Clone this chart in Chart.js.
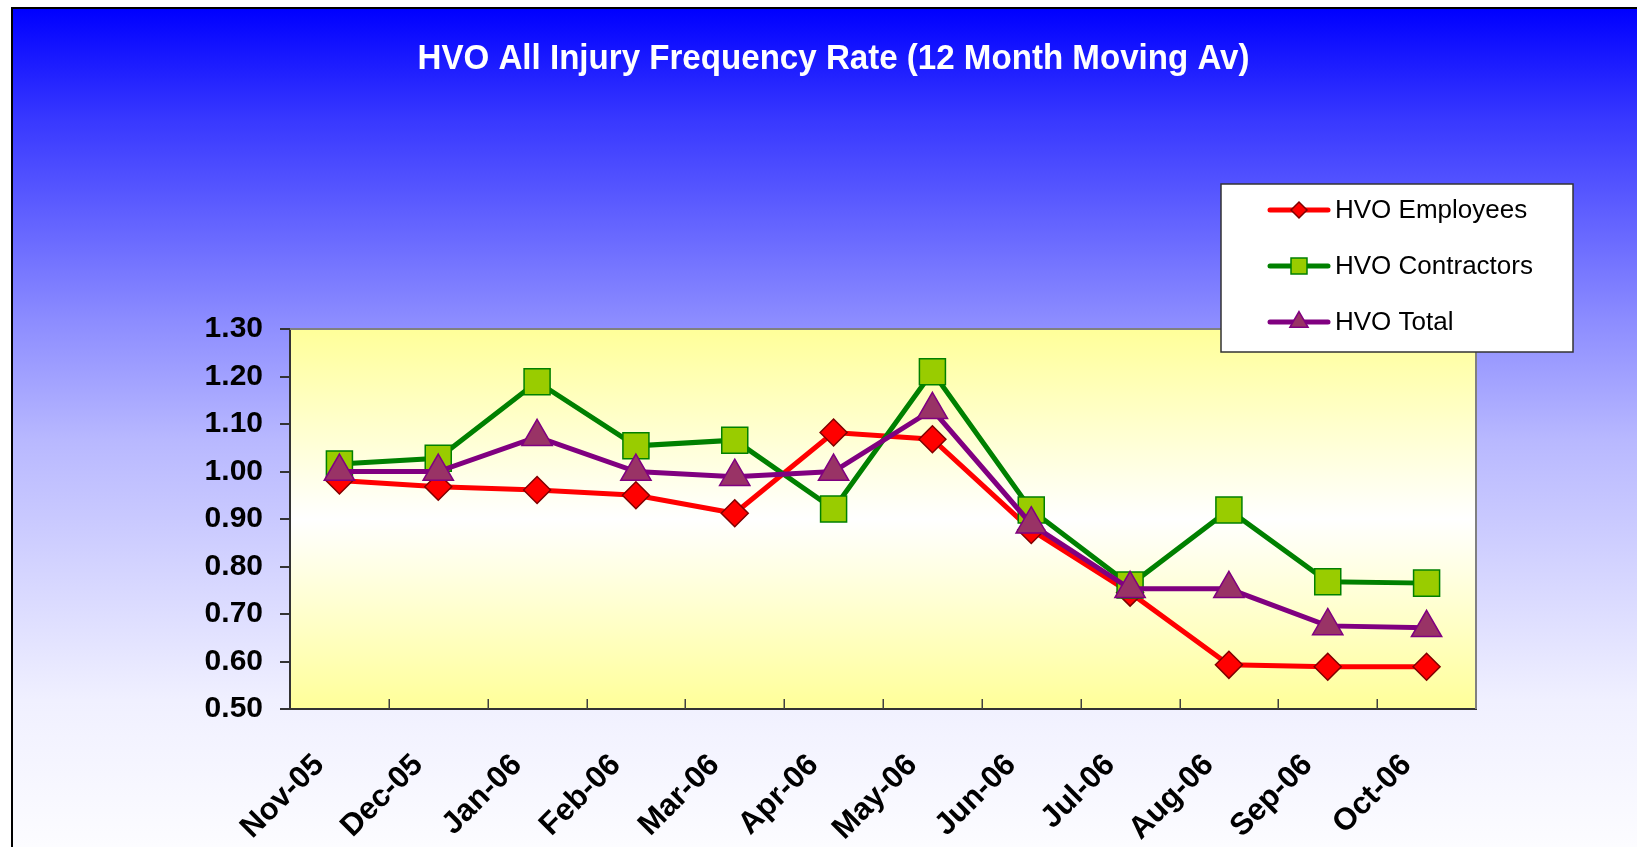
<!DOCTYPE html>
<html>
<head>
<meta charset="utf-8">
<script src="https://cdn.jsdelivr.net/npm/chart.js@4.4.1/dist/chart.umd.min.js"></script>
<style>
html,body{margin:0;padding:0;background:#ffffff;overflow:hidden}
#wrap{width:1637px;height:847px;position:relative}
canvas{display:block}
</style>
</head>
<body>
<div id="wrap"><canvas id="c" width="1637" height="847"></canvas></div>
<script>
const titleText = 'HVO All Injury Frequency Rate (12 Month Moving Av)';
const categories = ['Nov-05','Dec-05','Jan-06','Feb-06','Mar-06','Apr-06','May-06','Jun-06','Jul-06','Aug-06','Sep-06','Oct-06'];
const seriesNames = ['HVO Employees','HVO Contractors','HVO Total'];
const employees   = [0.981, 0.968, 0.961, 0.950, 0.912, 1.082, 1.068, 0.877, 0.745, 0.593, 0.589, 0.589];
const contractors = [1.016, 1.028, 1.189, 1.054, 1.066, 0.921, 1.210, 0.919, 0.761, 0.919, 0.768, 0.765];
const total       = [1.000, 1.000, 1.073, 1.000, 0.989, 1.000, 1.130, 0.889, 0.753, 0.753, 0.675, 0.671];
const yTickLabels = ['0.50','0.60','0.70','0.80','0.90','1.00','1.10','1.20','1.30'];

const FONT = '"Liberation Sans", Arial, Helvetica, sans-serif';

const legendSpec = [
  {style:'rectRot', r:8},
  {style:'rect', r:11.3},
  {style:'triangle', r:10.5}
];

function drawMarker(ctx, style, r, x, y){
  if (Chart.helpers && Chart.helpers.drawPoint){
    Chart.helpers.drawPoint(ctx, {pointStyle:style, radius:r, rotation:0, borderWidth:ctx.lineWidth}, x, y);
    return;
  }
  ctx.beginPath();
  if (style === 'rectRot'){
    ctx.moveTo(x-r,y);ctx.lineTo(x,y-r);ctx.lineTo(x+r,y);ctx.lineTo(x,y+r);
  } else if (style === 'rect'){
    const s = r*Math.SQRT1_2; ctx.rect(x-s,y-s,2*s,2*s);
  } else {
    for (let k=0;k<3;k++){const a=k*2*Math.PI/3; const px=x+Math.sin(a)*r, py=y-Math.cos(a)*r; k?ctx.lineTo(px,py):ctx.moveTo(px,py);}
  }
  ctx.closePath();ctx.fill();ctx.stroke();
}

const decorPlugin = {
  id: 'decor',
  beforeDraw(chart){
    const ctx = chart.ctx, W = chart.width, H = chart.height, a = chart.chartArea;
    ctx.save();
    ctx.fillStyle = '#ffffff';
    ctx.fillRect(0,0,W,H);
    const g = ctx.createLinearGradient(0,9,0,H);
    g.addColorStop(0,'rgb(0,0,255)');
    g.addColorStop(0.132,'rgb(56,56,255)');
    g.addColorStop(0.371,'rgb(140,140,255)');
    g.addColorStop(0.514,'rgb(184,184,255)');
    g.addColorStop(0.825,'rgb(240,240,255)');
    g.addColorStop(1,'rgb(252,252,255)');
    ctx.fillStyle = g;
    ctx.fillRect(12,8,W-12,H-8);
    ctx.strokeStyle = '#000000';
    ctx.lineWidth = 2;
    ctx.beginPath();
    ctx.moveTo(12,H);ctx.lineTo(12,8);ctx.lineTo(W,8);
    ctx.stroke();
    const pg = ctx.createLinearGradient(0,a.top,0,a.bottom);
    pg.addColorStop(0,'#ffff99');
    pg.addColorStop(0.5,'#ffffff');
    pg.addColorStop(1,'#ffff99');
    ctx.fillStyle = pg;
    ctx.fillRect(a.left,a.top,a.right-a.left,a.bottom-a.top);
    ctx.restore();
  },
  beforeDatasetsDraw(chart){
    const ctx = chart.ctx, a = chart.chartArea, xs = chart.scales.x;
    ctx.save();
    ctx.strokeStyle = '#808080';
    ctx.lineWidth = 2;
    ctx.beginPath();
    ctx.moveTo(a.left,a.top);ctx.lineTo(a.right,a.top);ctx.lineTo(a.right,a.bottom);
    ctx.stroke();
    ctx.strokeStyle = '#404040';
    ctx.lineWidth = 1.5;
    ctx.beginPath();
    for (let i=1;i<categories.length;i++){
      const x = Math.round((xs.getPixelForTick(i-1)+xs.getPixelForTick(i))/2)+0.25;
      ctx.moveTo(x,a.bottom);ctx.lineTo(x,a.bottom-10);
    }
    ctx.stroke();
    ctx.restore();
  },
  afterDraw(chart){
    const ctx = chart.ctx;
    ctx.save();
    // title
    ctx.font = 'bold 35px ' + FONT;
    ctx.fillStyle = '#ffffff';
    ctx.textAlign = 'center';
    ctx.textBaseline = 'alphabetic';
    const w = ctx.measureText(titleText).width;
    ctx.translate(833.5,69);
    ctx.scale(832/w,1);
    ctx.fillText(titleText,0,0);
    ctx.setTransform(1,0,0,1,0,0);
    // legend
    const bx=1221, by=184, bw=352, bh=168;
    ctx.fillStyle = '#ffffff';
    ctx.fillRect(bx,by,bw,bh);
    ctx.strokeStyle = '#333333';
    ctx.lineWidth = 1.5;
    ctx.strokeRect(bx,by,bw,bh);
    chart.data.datasets.forEach((ds,i)=>{
      const y = 210 + i*56;
      ctx.strokeStyle = ds.borderColor;
      ctx.lineWidth = 5;
      ctx.lineCap = 'round';
      ctx.beginPath();ctx.moveTo(1270,y);ctx.lineTo(1328,y);ctx.stroke();
      ctx.lineCap = 'butt';
      ctx.fillStyle = ds.pointBackgroundColor;
      ctx.strokeStyle = ds.pointBorderColor;
      ctx.lineWidth = 1.5;
      drawMarker(ctx, legendSpec[i].style, legendSpec[i].r, 1299, y);
      ctx.fillStyle = '#000000';
      ctx.font = '26px ' + FONT;
      ctx.textAlign = 'left';
      ctx.textBaseline = 'middle';
      ctx.fillText(ds.label, 1335, y+1);
    });
    ctx.restore();
  }
};

new Chart(document.getElementById('c'), {
  type: 'line',
  data: {
    labels: categories,
    datasets: [
      {label: seriesNames[0], data: employees, order: 3,
       borderColor:'#ff0000', borderWidth:5, pointStyle:'rectRot', pointRadius:13.5, pointHoverRadius:13.5,
       pointBackgroundColor:'#ff0000', pointBorderColor:'#800000', pointBorderWidth:1.5, tension:0},
      {label: seriesNames[1], data: contractors, order: 2,
       borderColor:'#008000', borderWidth:5, pointStyle:'rect', pointRadius:18.4, pointHoverRadius:18.4,
       pointBackgroundColor:'#99cc00', pointBorderColor:'#008000', pointBorderWidth:1.5, tension:0},
      {label: seriesNames[2], data: total, order: 1,
       borderColor:'#800080', borderWidth:5, pointStyle:'triangle', pointRadius:17.5, pointHoverRadius:17.5,
       pointBackgroundColor:'#993366', pointBorderColor:'#800080', pointBorderWidth:1.5, tension:0}
    ]
  },
  options: {
    responsive: false,
    animation: false,
    devicePixelRatio: 1,
    layout: {padding: {top: 329, right: 161, bottom: 0, left: 0}},
    plugins: {legend: {display:false}, title: {display:false}, tooltip: {enabled:false}},
    events: [],
    scales: {
      x: {
        type: 'category',
        offset: true,
        grid: {display:false, drawTicks:false, offset:true},
        border: {display:true, color:'#333333', width:2},
        ticks: {autoSkip:false, minRotation:45, maxRotation:45, padding:38, labelOffset:-20,
                color:'#000000', font:{family:FONT, size:31, weight:'bold'}},
        afterFit: s => { s.height = 138; }
      },
      y: {
        min: 0.5, max: 1.3,
        grid: {drawOnChartArea:false, drawTicks:true, tickLength:10, color:'#333333', lineWidth:2},
        border: {display:true, color:'#333333', width:2},
        ticks: {stepSize:0.1, padding:17, color:'#000000', font:{family:FONT, size:30, weight:'bold'},
                callback: (v,i) => yTickLabels[i]},
        afterFit: s => { s.width = 290; }
      }
    }
  },
  plugins: [decorPlugin]
});
</script>
</body>
</html>
